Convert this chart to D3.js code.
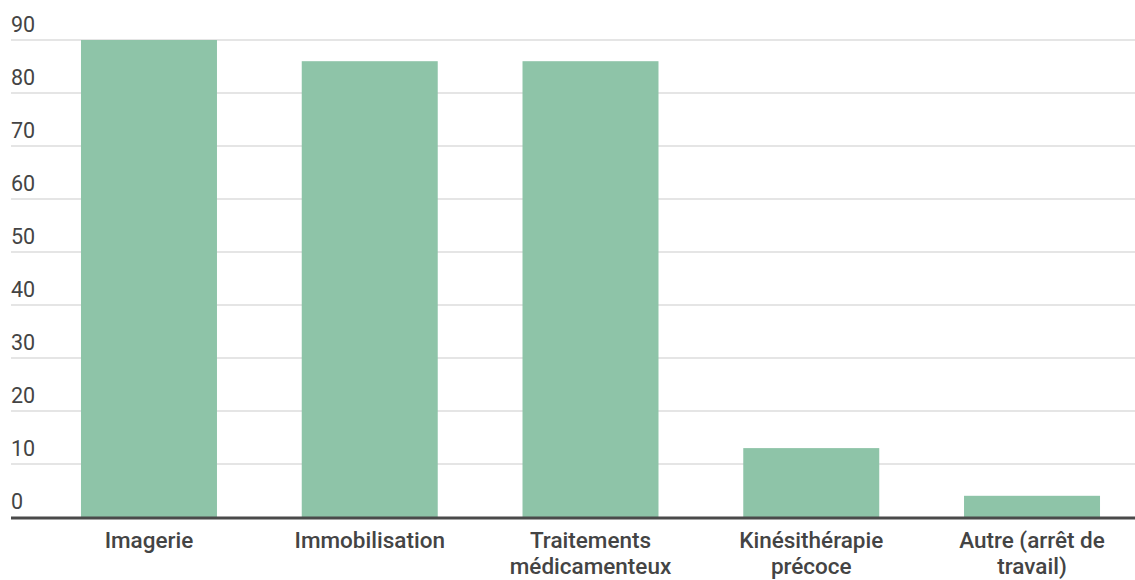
<!DOCTYPE html>
<html><head><meta charset="utf-8">
<script src="https://cdn.jsdelivr.net/npm/d3@7"></script>
<style>
html,body{margin:0;padding:0;background:#fff;}
text{font-family:Roboto,"Noto Sans",sans-serif;}
</style></head>
<body>
<svg id="chart" width="1135" height="580"></svg>
<script>
const categories = [["Imagerie"],["Immobilisation"],["Traitements","médicamenteux"],["Kinésithérapie","précoce"],["Autre (arrêt de","travail)"]];
const values = [90, 86, 86, 13, 4];
const yTicks = [0,10,20,30,40,50,60,70,80,90];

const svg = d3.select("#chart");
const gridLeft = 11, gridRight = 1135;
const y = d3.scaleLinear().domain([0,90]).range([517,40]);
const x = d3.scaleBand().domain(d3.range(categories.length))
  .range([38.6, 1142.4]).paddingInner(0.384).paddingOuter(0.192);

// gridlines
svg.append("g").selectAll("line").data(yTicks.filter(d=>d>0)).join("line")
  .attr("x1", gridLeft).attr("x2", gridRight)
  .attr("y1", d=>y(d)).attr("y2", d=>y(d))
  .attr("stroke","#dcdcdc").attr("stroke-width",1.5);

// y labels
svg.append("g").selectAll("text").data(yTicks).join("text")
  .attr("x", gridLeft).attr("y", d=>y(d)-8)
  .attr("font-size",21.5).attr("fill","#444")
  .text(d=>d);

// bars
svg.append("g").selectAll("rect").data(values).join("rect")
  .attr("x",(d,i)=>x(i)).attr("width",x.bandwidth())
  .attr("y",d=>y(d)).attr("height",d=>y(0)-y(d))
  .attr("fill","#8ec4a8");

// baseline
svg.append("line").attr("x1",gridLeft).attr("x2",gridRight)
  .attr("y1",y(0)+1).attr("y2",y(0)+1)
  .attr("stroke","#4a4a4a").attr("stroke-width",3);

// x labels
const xl = svg.append("g").selectAll("text").data(categories).join("text")
  .attr("text-anchor","middle")
  .attr("font-size",22.5).attr("font-weight",500).attr("fill","#444")
  .attr("transform",(d,i)=>`translate(${x(i)+x.bandwidth()/2},548)`);
xl.selectAll("tspan").data(d=>d).join("tspan")
  .attr("x",0).attr("dy",(d,j)=>j===0?0:26).text(d=>d);
</script>
</body></html>
